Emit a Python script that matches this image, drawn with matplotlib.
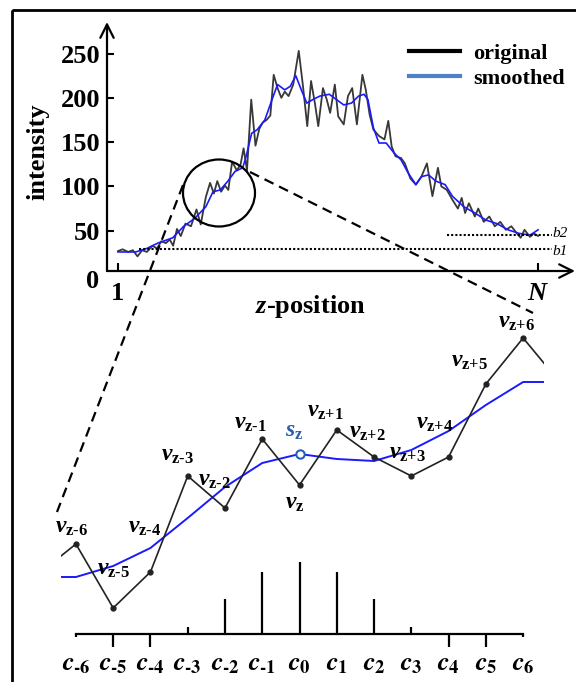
import numpy as np
import matplotlib
matplotlib.use('Agg')
import matplotlib.pyplot as plt
from matplotlib.lines import Line2D
from matplotlib.patches import Ellipse, Rectangle

plt.rcParams['font.family'] = 'Liberation Serif'
plt.rcParams['font.weight'] = 'bold'
plt.rcParams['mathtext.fontset'] = 'custom'
plt.rcParams['mathtext.rm'] = 'Liberation Serif:bold'
plt.rcParams['mathtext.it'] = 'Liberation Serif:italic:bold'
plt.rcParams['mathtext.bf'] = 'Liberation Serif:bold'

# intensity profile along z (top panel)
z_orig = [1, 2.1, 3.4, 4.5, 5.6, 6.7, 7.8, 9.1, 10.2, 11.2, 12.3, 13.2, 14.0, 14.9,
          15.8, 16.9, 18.2, 19.5, 20.5, 21.7, 22.7, 23.6, 24.4, 25.3, 26.2, 27.0,
          27.9, 29.0, 29.9, 30.6, 31.4, 32.4, 33.4, 34.3, 35.1, 36.0, 36.9, 37.7,
          38.6, 39.5, 40.3, 41.2, 42.3, 43.6, 44.6, 45.6, 46.5, 47.4, 48.2, 49.3,
          50.2, 51.0, 52.1, 52.9, 54.2, 55.2, 56.2, 57.3, 58.6, 59.4, 60.3, 61.2,
          62.5, 63.8, 64.7, 65.5, 66.4, 67.7, 68.6, 69.9, 71.2, 72.5, 73.8, 75.1,
          76.4, 77.2, 78.5, 79.8, 81.1, 82.0, 82.8, 83.7, 85.1, 85.9, 87.2, 88.5,
          89.8, 91.1, 92.4, 93.7, 95.0, 95.9, 96.8, 98.1, 99.0, 100]
i_orig = [27, 29, 26, 28, 21, 28, 26, 33, 30, 38, 36, 40, 33, 52,
          44, 58, 55, 74, 57, 88, 104, 92, 106, 94, 101, 96,
          128, 118, 125, 143, 118, 198, 146, 165, 172, 175, 180, 226,
          211, 200, 207, 202, 215, 253, 213, 168, 219, 194, 168, 211,
          198, 183, 215, 179, 170, 202, 211, 170, 226, 209, 181, 164,
          157, 153, 174, 145, 134, 132, 126, 109, 102, 111, 126, 89,
          121, 100, 96, 85, 75, 87, 70, 81, 66, 75, 60, 66,
          55, 60, 51, 55, 47, 42, 51, 43, 47, 44]
z_smooth = [1, 5.2, 7.8, 10.4, 13.9, 16.5, 19.1, 21.7, 23.4, 25.1, 26.9, 28.6, 30.4,
            31.2, 32.5, 33.8, 35.6, 37.3, 38.6, 40.3, 41.6, 42.9, 44.2, 45.5, 46.9,
            48.6, 50.8, 52.5, 54.2, 56.0, 57.7, 59.0, 59.9, 61.2, 62.5, 64.2, 66.0,
            67.7, 69.4, 71.2, 72.5, 74.2, 75.9, 78.1, 79.8, 82.5, 85.1, 87.7, 90.3,
            92.9, 95.5, 98.1, 100]
i_smooth = [26, 26, 30, 36, 42, 55, 64, 77, 94, 96, 106, 117, 121,
            134, 160, 164, 175, 198, 215, 209, 213, 225, 209, 194, 198,
            202, 204, 198, 192, 194, 202, 204, 198, 166, 149, 149, 138,
            130, 115, 102, 111, 113, 106, 102, 89, 77, 70, 62, 58,
            51, 47, 45, 51]
n_slices = 100
b1, b2 = 29, 45

# window of 13 slices around z (bottom panel)
offsets = np.arange(-7, 8)
v_win = [108, 138, 74, 110, 206, 174, 243, 197, 252, 225, 206, 225, 298, 344, 299]
s_win = [105, 105, 116, 134, 164, 195, 219, 228, 223, 221, 232, 251, 277, 300, 300]
v_names = ['z-6', 'z-5', 'z-4', 'z-3', 'z-2', 'z-1', 'z',
           'z+1', 'z+2', 'z+3', 'z+4', 'z+5', 'z+6']
coef_idx = np.arange(-6, 7)
coefs = [-0.01, -0.045, -0.045, 0.025, 0.12, 0.215, 0.25,
         0.215, 0.12, 0.025, -0.045, -0.045, -0.01]

# label offsets (pixels) from each v point
lab_dx = [-4, 0, -6, -10, -11, -12, -5, -11, -7, -4, -14, -16, -7]
lab_dy = [17, 38, 44, 21, 28, 16, -18, 18, 25, 23, 34, 23, 16]

fig = plt.figure(figsize=(5.76, 6.82), dpi=100)
W, H = 576, 682

# ---- top: intensity vs z-position
ax = fig.add_axes([107 / W, 1 - 271 / H, 468 / W, 249 / H])
ax.patch.set_visible(False)
ax.set_xlim(-1.59, 108.7)
ax.set_ylim(4.5, 285.6)
for sp in ax.spines.values():
    sp.set_visible(False)
ax.plot(z_orig, i_orig, color='#383838', lw=1.3)
ax.plot(z_smooth, i_smooth, color='#1a1aff', lw=1.2)
ax.plot([6, 103.2], [b1, b1], color='k', ls=(0, (1, 1)), lw=1.5)
ax.plot([78.5, 103.2], [b2, b2], color='k', ls=(0, (1, 1)), lw=1.5)
ax.annotate('b1', xy=(103.4, b1), xytext=(0, -2), textcoords='offset pixels',
            style='italic', fontweight='normal', fontsize=11, va='center')
ax.annotate('b2', xy=(103.4, b2), xytext=(0, 2), textcoords='offset pixels',
            style='italic', fontweight='normal', fontsize=11, va='center')

ax.set_yticks([50, 100, 150, 200, 250])
ax.set_yticklabels(['50', '100', '150', '200', '250'], fontsize=19, fontweight='bold')
ax.set_xticks([1, n_slices])
ax.set_xticklabels(['1', '$N$'], fontsize=19, fontweight='bold')
ax.tick_params(axis='y', direction='in', length=5, width=1.5, pad=5)
ax.tick_params(axis='x', direction='in', length=6, width=1.5, pad=8)

arrow = dict(arrowstyle='->', lw=1.6, color='k', shrinkA=0, shrinkB=0, mutation_scale=24)
ax.annotate('', xy=(0, 1), xytext=(0, 0), xycoords='axes fraction', arrowprops=arrow)
ax.annotate('', xy=(1, 0), xytext=(0, 0), xycoords='axes fraction', arrowprops=arrow)

handles = [Line2D([], [], color='black', lw=3),
           Line2D([], [], color='#4f81c7', lw=3)]
ax.legend(handles, ['original', 'smoothed'], loc='upper left',
          bbox_to_anchor=(398 / W, 1 - 32 / H), bbox_transform=fig.transFigure,
          frameon=False, handlelength=2.3, handletextpad=0.6,
          labelspacing=0.2, borderpad=0, prop={'weight': 'bold', 'size': 16})

# ---- bottom: window of slices and filter coefficients
bx = fig.add_axes([61 / W, 0, 483 / W, 382 / H])
bx.patch.set_visible(False)
bx.set_xlim(-6.4, 6.56)
bx.set_ylim(0, 382)
bx.axis('off')
bx.plot(offsets, s_win, color='#1a1aff', lw=1.4)
bx.plot(offsets, v_win, color='#222222', lw=1.2, marker='o', ms=3.5)
bx.plot(0, s_win[7], 'o', mfc='white', mec='#1f5fbf', ms=6, mew=1.5)

base = 48
bx.plot([-6, 6], [base, base], color='k', lw=1.6)
bx.vlines(coef_idx, base, base + np.array(coefs) * 288, colors='k', lw=1.6)
for k in coef_idx:
    sub = str(k).replace('-', r'\text{-}')
    bx.text(k, 17, rf'$c_{{{sub}}}$', ha='center', va='center', fontsize=19,
            math_fontfamily='stix', fontweight='normal', clip_on=False)

for j, name in enumerate(v_names):
    sub = name.replace('-', r'\text{-}').replace('+', r'\text{+}')
    bx.annotate(rf'$v_{{\mathrm{{{sub}}}}}$', xy=(coef_idx[j], v_win[j + 1]),
                xytext=(lab_dx[j], lab_dy[j]), textcoords='offset pixels',
                ha='center', va='center', fontsize=17, annotation_clip=False)
bx.annotate(r'$s_{\mathrm{z}}$', xy=(0, s_win[7]), xytext=(-5, 23),
            textcoords='offset pixels', ha='center', va='center', fontsize=17,
            color='#2a5caa')

# ---- overlay in pixel units: frame, zoom circle, connectors, free labels
ov = fig.add_axes([0, 0, 1, 1])
ov.patch.set_visible(False)
ov.set_xlim(0, W)
ov.set_ylim(H, 0)
ov.axis('off')
ov.add_patch(Rectangle((12, 10), 620, 700, fill=False, lw=2, ec='k'))
ov.add_patch(Ellipse((219, 193), 72, 67, fill=False, lw=1.6, ec='k'))
ov.plot([183, 57], [185, 512], color='k', ls=(0, (4.5, 2.8)), lw=1.6)
ov.plot([250, 533], [172, 313], color='k', ls=(0, (4.5, 2.8)), lw=1.6)
ov.text(93, 281, '0', fontsize=19, ha='center', va='center')
ov.text(38, 152, 'intensity', fontsize=19, rotation=90, ha='center', va='center')
ov.text(310, 307, r'$z$-position', fontsize=19, ha='center', va='center')

fig.savefig('out.png', dpi=100)
